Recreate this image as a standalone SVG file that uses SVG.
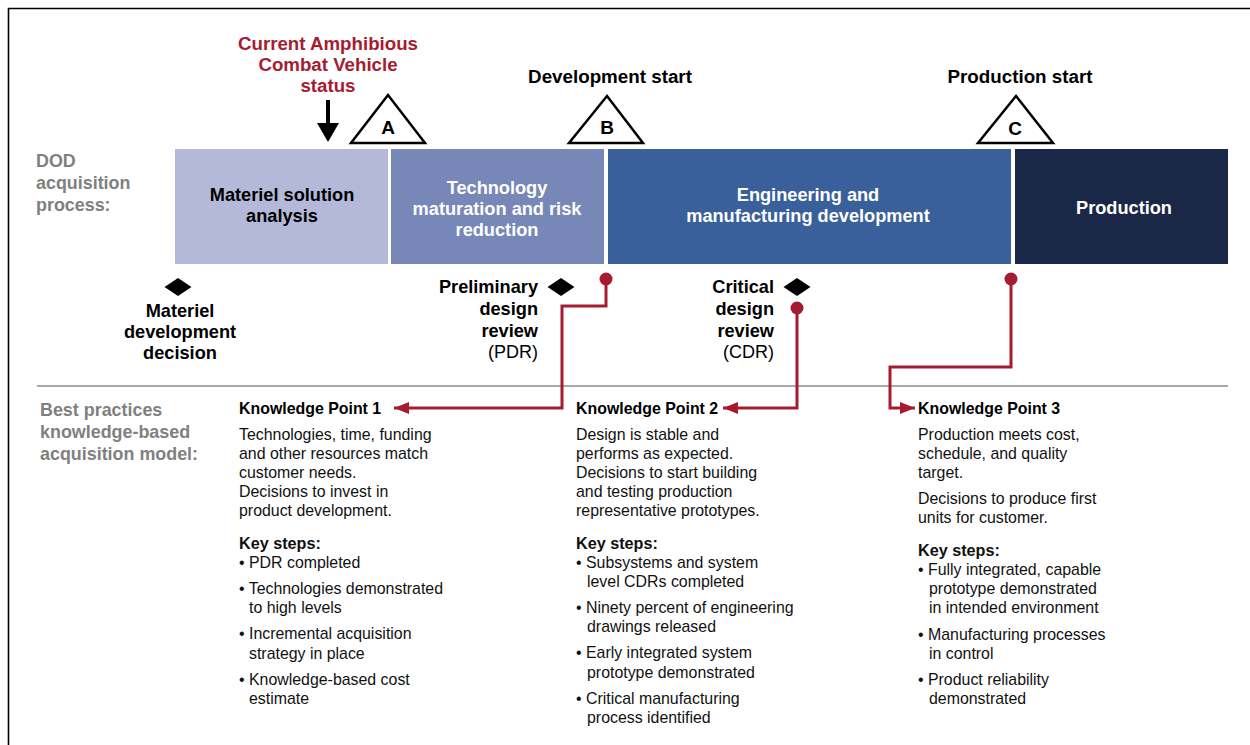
<svg xmlns="http://www.w3.org/2000/svg" width="1250" height="745" viewBox="0 0 1250 745">
<defs>
<style>
text{font-family:"Liberation Sans",Arial,sans-serif;}
.hdr{font-size:18.8px;font-weight:bold;fill:#000;text-anchor:middle;}
.red{font-size:18.7px;font-weight:bold;fill:#a51c30;text-anchor:middle;}
.gray{font-size:17.9px;font-weight:bold;fill:#808080;}
.ph{font-size:18.2px;font-weight:bold;text-anchor:middle;}
.tri{fill:#fff;stroke:#000;stroke-width:2.5;stroke-linejoin:miter;}
.tl{font-size:19px;font-weight:bold;text-anchor:middle;fill:#000;}
.ms{font-size:18.2px;font-weight:bold;fill:#000;}
.msn{font-size:18px;font-weight:normal;fill:#000;}
.kp{font-size:15.9px;font-weight:bold;fill:#000;}
.body{font-size:15.9px;fill:#111;}
.ks{font-size:16.2px;font-weight:bold;fill:#111;}
.conn{fill:none;stroke:#a51c30;stroke-width:3;}
.dot{fill:#a51c30;}
.dia{fill:#000;}
</style>
<marker id="arr" markerUnits="userSpaceOnUse" markerWidth="16" markerHeight="12" refX="15" refY="6" orient="auto">
<path d="M0,0 L15,6 L0,12 Z" fill="#a51c30"/>
</marker>
</defs>
<rect x="0" y="0" width="1250" height="745" fill="#fff"/>
<path d="M8.5,745 V8.5 H1250" fill="none" stroke="#000" stroke-width="1.6"/>

<g id="status-marker">
<text class="red" x="328" y="50">Current Amphibious</text>
<text class="red" x="328" y="71">Combat Vehicle</text>
<text class="red" x="328" y="92">status</text>
<path d="M328,100 V124" stroke="#000" stroke-width="4"/>
<path d="M317,123 L339,123 L328,142 Z" fill="#000"/>
</g>

<g id="label-dod">
<text class="gray" x="36" y="167">DOD</text>
<text class="gray" x="36" y="189">acquisition</text>
<text class="gray" x="36" y="211">process:</text>
</g>

<g id="milestone-A">
<polygon class="tri" points="388,95 351,143 425,143"/>
<text class="tl" x="388" y="134">A</text>
</g>
<g id="milestone-B">
<text class="hdr" x="610" y="83">Development start</text>
<polygon class="tri" points="607,96 569,143 643,143"/>
<text class="tl" x="607" y="134">B</text>
</g>
<g id="milestone-C">
<text class="hdr" x="1020" y="83">Production start</text>
<polygon class="tri" points="1016,96 978,143 1053,143"/>
<text class="tl" x="1015" y="135">C</text>
</g>

<g id="phase-msa">
<rect x="175" y="149" width="213" height="115" fill="#b5b9d9"/>
<text class="ph" x="282" y="201" fill="#000">Materiel solution</text>
<text class="ph" x="282" y="222" fill="#000">analysis</text>
</g>
<g id="phase-tmrr">
<rect x="391" y="149" width="213" height="115" fill="#7787b8"/>
<text class="ph" x="497" y="194" fill="#fff">Technology</text>
<text class="ph" x="497" y="215" fill="#fff">maturation and risk</text>
<text class="ph" x="497" y="236" fill="#fff">reduction</text>
</g>
<g id="phase-emd">
<rect x="608" y="149" width="403" height="115" fill="#3a609b"/>
<text class="ph" x="808" y="201" fill="#fff">Engineering and</text>
<text class="ph" x="808" y="222" fill="#fff">manufacturing development</text>
</g>
<g id="phase-production">
<rect x="1015" y="149" width="213" height="115" fill="#1b2747"/>
<text class="ph" x="1124" y="214" fill="#fff">Production</text>
</g>

<g id="mdd">
<polygon class="dia" points="178,278 191.5,287 178,296 164.5,287"/>
<text class="ms" x="180" y="317" text-anchor="middle">Materiel</text>
<text class="ms" x="180" y="338" text-anchor="middle">development</text>
<text class="ms" x="180" y="359" text-anchor="middle">decision</text>
</g>
<g id="pdr">
<polygon class="dia" points="561,278 574.5,287 561,296 547.5,287"/>
<text class="ms" x="538" y="293" text-anchor="end">Preliminary</text>
<text class="ms" x="538" y="315" text-anchor="end">design</text>
<text class="ms" x="538" y="337" text-anchor="end">review</text>
<text class="msn" x="538" y="358" text-anchor="end">(PDR)</text>
</g>
<g id="cdr">
<polygon class="dia" points="797,278 810.5,287 797,296 783.5,287"/>
<text class="ms" x="774" y="293" text-anchor="end">Critical</text>
<text class="ms" x="774" y="315" text-anchor="end">design</text>
<text class="ms" x="774" y="337" text-anchor="end">review</text>
<text class="msn" x="774" y="358" text-anchor="end">(CDR)</text>
</g>

<line id="separator" x1="37" y1="386" x2="1228" y2="386" stroke="#555" stroke-width="1.2"/>

<g id="label-best">
<text class="gray" x="40" y="416">Best practices</text>
<text class="gray" x="40" y="438">knowledge-based</text>
<text class="gray" x="40" y="460">acquisition model:</text>
</g>

<g id="connectors">
<path class="conn" d="M606,279 V306 H562 V408 H394" marker-end="url(#arr)"/>
<circle class="dot" cx="606" cy="279" r="6.5"/>
<path class="conn" d="M797,308 V408 H723" marker-end="url(#arr)"/>
<circle class="dot" cx="797" cy="308" r="6.5"/>
<path class="conn" d="M1011,279 V367 H890 V408 H915" marker-end="url(#arr)"/>
<circle class="dot" cx="1011" cy="279" r="6.5"/>
</g>

<g id="kp1">
<text class="kp" x="239" y="414">Knowledge Point 1</text>
<text class="body" x="239" y="440">Technologies, time, funding</text>
<text class="body" x="239" y="459">and other resources match</text>
<text class="body" x="239" y="478">customer needs.</text>
<text class="body" x="239" y="497">Decisions to invest in</text>
<text class="body" x="239" y="516">product development.</text>
<text class="ks" x="239" y="549">Key steps:</text>
<text class="body" x="239" y="568">• PDR completed</text>
<text class="body" x="239" y="594">• Technologies demonstrated</text>
<text class="body" x="249" y="613">to high levels</text>
<text class="body" x="239" y="639">• Incremental acquisition</text>
<text class="body" x="249" y="659">strategy in place</text>
<text class="body" x="239" y="685">• Knowledge-based cost</text>
<text class="body" x="249" y="704">estimate</text>
</g>

<g id="kp2">
<text class="kp" x="576" y="414">Knowledge Point 2</text>
<text class="body" x="576" y="440">Design is stable and</text>
<text class="body" x="576" y="459">performs as expected.</text>
<text class="body" x="576" y="478">Decisions to start building</text>
<text class="body" x="576" y="497">and testing production</text>
<text class="body" x="576" y="516">representative prototypes.</text>
<text class="ks" x="576" y="549">Key steps:</text>
<text class="body" x="576" y="568">• Subsystems and system</text>
<text class="body" x="587" y="587">level CDRs completed</text>
<text class="body" x="576" y="613">• Ninety percent of engineering</text>
<text class="body" x="587" y="632">drawings released</text>
<text class="body" x="576" y="658">• Early integrated system</text>
<text class="body" x="587" y="678">prototype demonstrated</text>
<text class="body" x="576" y="704">• Critical manufacturing</text>
<text class="body" x="587" y="723">process identified</text>
</g>

<g id="kp3">
<text class="kp" x="918" y="414">Knowledge Point 3</text>
<text class="body" x="918" y="440">Production meets cost,</text>
<text class="body" x="918" y="459">schedule, and quality</text>
<text class="body" x="918" y="478">target.</text>
<text class="body" x="918" y="504">Decisions to produce first</text>
<text class="body" x="918" y="523">units for customer.</text>
<text class="ks" x="918" y="556">Key steps:</text>
<text class="body" x="918" y="575">• Fully integrated, capable</text>
<text class="body" x="929" y="594">prototype demonstrated</text>
<text class="body" x="929" y="613">in intended environment</text>
<text class="body" x="918" y="640">• Manufacturing processes</text>
<text class="body" x="929" y="659">in control</text>
<text class="body" x="918" y="685">• Product reliability</text>
<text class="body" x="929" y="704">demonstrated</text>
</g>
</svg>
